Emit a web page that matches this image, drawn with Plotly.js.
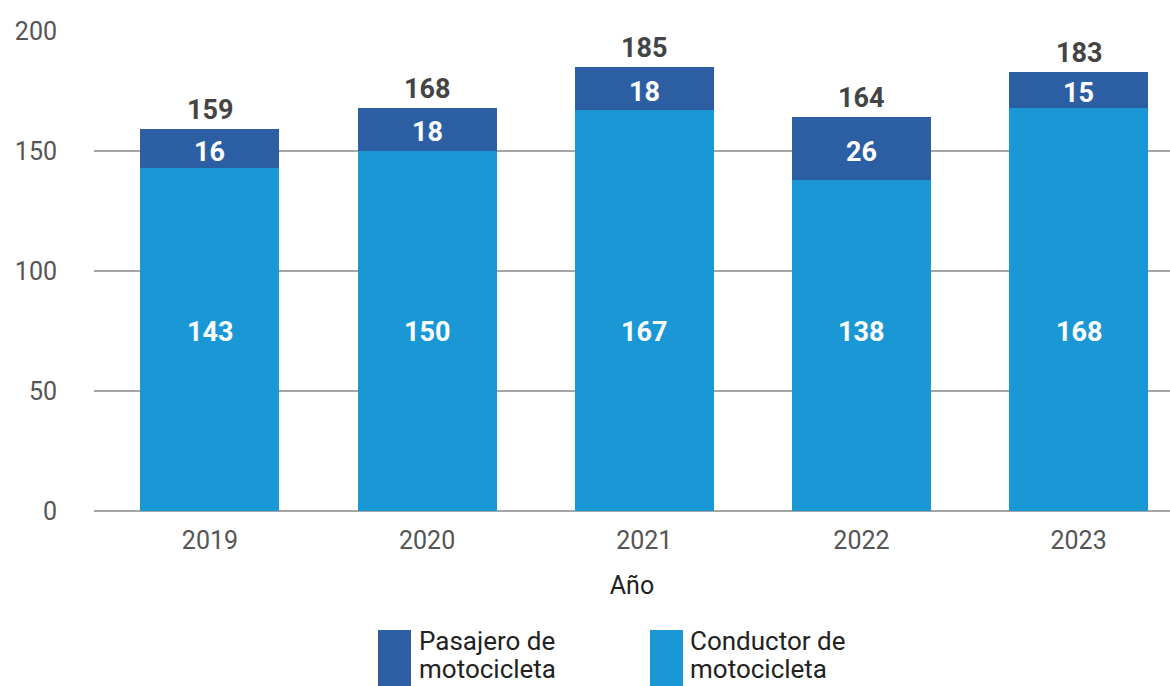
<!DOCTYPE html>
<html><head><meta charset="utf-8">
<script src="https://cdn.plot.ly/plotly-3.0.1.min.js"></script>
<style>body{margin:0;padding:0;background:#fff}#chart{width:1170px;height:686px}</style>
</head><body><div id="chart"></div>
<script>
const years = ['2019','2020','2021','2022','2023'];
const conductor = [143,150,167,138,168];
const pasajero = [16,18,18,26,15];
const seriesLines = [['Pasajero de','motocicleta'],['Conductor de','motocicleta']];
const colorConductor = '#1a98d6';
const colorPasajero = '#2b5ea2';

const W=1170,H=686,L=94,R=0,T=31,B=175;
const pw=W-L-R, ph=H-T-B;
const px=x=>(x-L)/pw, py=y=>(H-B-y)/ph;

const totals = years.map((_,i)=>conductor[i]+pasajero[i]);
const lblFont = {family:'Roboto',size:27,color:'#ffffff'};

const traces = [
 {type:'bar',x:years,y:conductor,name:'Conductor',marker:{color:colorConductor},hoverinfo:'skip'},
 {type:'bar',x:years,y:pasajero,name:'Pasajero',marker:{color:colorPasajero},hoverinfo:'skip'}
];

const annotations = [];
years.forEach((y,i)=>{
  annotations.push({x:i,y:totals[i],xref:'x',yref:'y',text:'<b>'+totals[i]+'</b>',
    showarrow:false,yanchor:'bottom',yshift:1,font:{family:'Roboto',size:27,color:'#444444'}});
  annotations.push({x:i,y:py(332),xref:'x',yref:'paper',text:'<b>'+conductor[i]+'</b>',
    showarrow:false,yanchor:'middle',font:lblFont});
  annotations.push({x:i,y:conductor[i]+pasajero[i]/2,xref:'x',yref:'y',text:'<b>'+pasajero[i]+'</b>',
    showarrow:false,yanchor:'middle',yshift:-3,font:lblFont});
});

const legendItems=[{sx:378,tx:417,color:colorPasajero,lines:seriesLines[0]},{sx:650,tx:688,color:colorConductor,lines:seriesLines[1]}];
const shapes=[];
legendItems.forEach(it=>{
  shapes.push({type:'rect',xref:'paper',yref:'paper',x0:px(it.sx),x1:px(it.sx+33),y0:py(630),y1:py(686),
    fillcolor:it.color,line:{width:0}});
  it.lines.forEach((ln,k)=>{
    annotations.push({xref:'paper',yref:'paper',x:px(it.tx),y:py(686-(1-k)*28),xanchor:'left',yanchor:'bottom',align:'left',
      text:ln,showarrow:false,font:{family:'Roboto',size:26,color:'#222222'}});
  });
});

const layout={
  width:W,height:H,margin:{l:L,r:R,t:T,b:B},
  paper_bgcolor:'#fff',plot_bgcolor:'#fff',
  barmode:'stack',bargap:0.36,showlegend:false,
  font:{family:'Roboto',color:'#555555'},
  xaxis:{type:'category',range:[-0.534,4.421],showgrid:false,showline:false,zeroline:false,
    tickfont:{family:'Roboto',size:25,color:'#555555'},ticks:'',ticklabelstandoff:12,
    title:{text:'Año',font:{family:'Roboto',size:25,color:'#222222'},standoff:22}},
  yaxis:{range:[0,200],tickvals:[0,50,100,150,200],showgrid:true,gridcolor:'#a6a6a6',gridwidth:2,
    zeroline:true,zerolinecolor:'#a6a6a6',zerolinewidth:2,showline:false,
    tickfont:{family:'Roboto',size:25,color:'#555555'},ticklabelstandoff:36},
  annotations:annotations,shapes:shapes
};
Plotly.newPlot('chart',traces,layout,{staticPlot:true,displayModeBar:false});
</script></body></html>
